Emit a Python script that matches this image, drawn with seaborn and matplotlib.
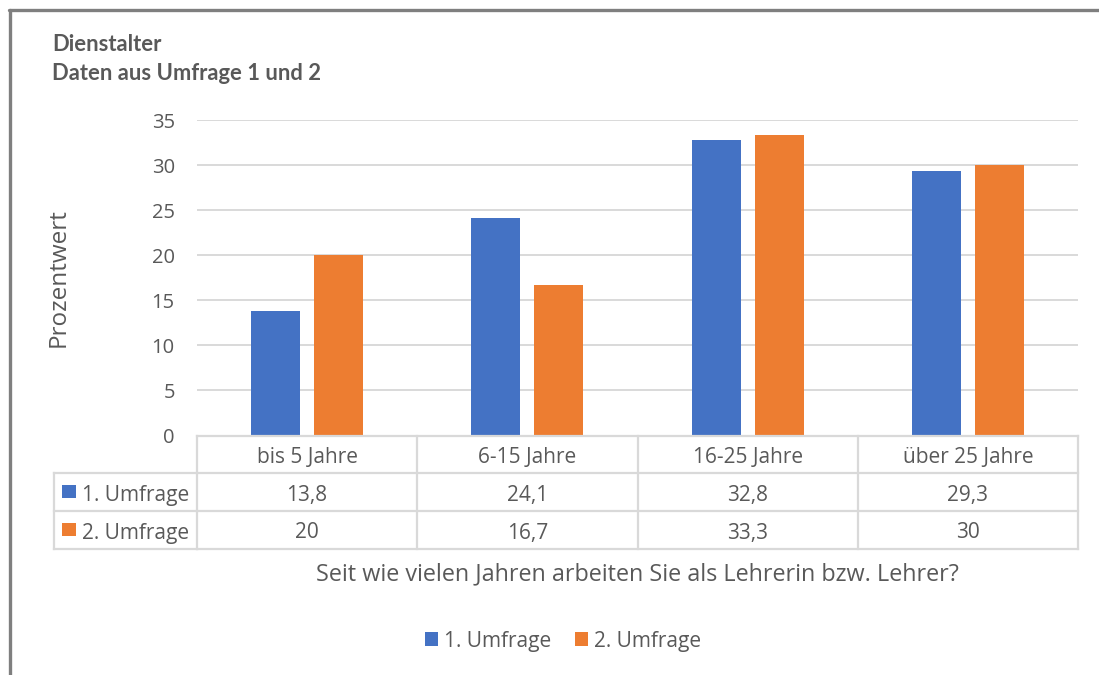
import matplotlib
matplotlib.use("Agg")
import matplotlib.pyplot as plt
import matplotlib.transforms as mtransforms
from matplotlib.lines import Line2D
from matplotlib.patches import Rectangle, Patch
import pandas as pd
import seaborn as sns

# ---- data ----
categories = ["bis 5 Jahre", "6-15 Jahre", "16-25 Jahre", "über 25 Jahre"]
series_names = ["1. Umfrage", "2. Umfrage"]
umfrage1 = [13.8, 24.1, 32.8, 29.3]
umfrage2 = [20, 16.7, 33.3, 30]
value_labels1 = ["13,8", "24,1", "32,8", "29,3"]
value_labels2 = ["20", "16,7", "33,3", "30"]
y_ticks = [0, 5, 10, 15, 20, 25, 30, 35]

BLUE = "#4472C4"
ORANGE = "#ED7D31"
GRID = "#D9D9D9"
TEXT = "#595959"
FRAME = "#7F7F7F"

sns.set_theme(style="white")
plt.rcParams["font.family"] = ["Open Sans", "DejaVu Sans"]

df = pd.DataFrame({
    "Kategorie": categories * 2,
    "Umfrage": [series_names[0]] * 4 + [series_names[1]] * 4,
    "Wert": umfrage1 + umfrage2,
})

W, H = 1099, 675
fig = plt.figure(figsize=(W / 100, H / 100), dpi=100)
fig.patch.set_facecolor("white")

# pixel transform with origin at top-left
px = mtransforms.Affine2D().scale(1, -1).translate(0, H)

ax = fig.add_axes([197 / W, 1 - 435.5 / H, 881 / W, 315.5 / H])
sns.barplot(data=df, x="Kategorie", y="Wert", hue="Umfrage",
            palette=[BLUE, ORANGE], width=0.572, gap=0.222,
            saturation=1, linewidth=0, legend=False, ax=ax, errorbar=None)

ax.set_xlim(-0.5, len(categories) - 0.5)
ax.set_ylim(0, 35)
ax.set_yticks(y_ticks)
ax.set_yticklabels([str(t) for t in y_ticks])
ax.set_xticks([])
ax.set_xlabel("")
ax.set_ylabel("")
ax.tick_params(axis="y", length=0, pad=16, labelsize=14.5, labelcolor=TEXT)
ax.yaxis.grid(True, color=GRID, linewidth=1.4)
ax.set_axisbelow(True)
for s in ax.spines.values():
    s.set_visible(False)

# ---- data table under the plot ----
colx = mtransforms.blended_transform_factory(ax.transData, px)
row_edges = [435.5, 472.5, 510.5, 548.5]
n = len(categories)
lkw = dict(color=GRID, linewidth=1.6, clip_on=False, solid_capstyle="projecting")
TFS = 15

# header row top line (only category columns)
ax.add_line(Line2D([-0.5, n - 0.5], [row_edges[0]] * 2, transform=colx, **lkw))
# lines spanning the legend column as well
for y in row_edges[1:]:
    fig.add_artist(Line2D([54, 197], [y, y], transform=px, **lkw))
    ax.add_line(Line2D([-0.5, n - 0.5], [y, y], transform=colx, **lkw))
# vertical lines
fig.add_artist(Line2D([54, 54], [row_edges[1], row_edges[3]], transform=px, **lkw))
for i in range(n + 1):
    ax.add_line(Line2D([i - 0.5, i - 0.5], [row_edges[0], row_edges[3]], transform=colx, **lkw))

row_mid = [(row_edges[k] + row_edges[k + 1]) / 2 for k in range(3)]
for i, cat in enumerate(categories):
    ax.text(i, row_mid[0] + 1, cat, transform=colx, ha="center", va="center_baseline",
            fontsize=TFS, color=TEXT, clip_on=False)
    ax.text(i, row_mid[1] + 1, value_labels1[i], transform=colx, ha="center",
            va="center_baseline", fontsize=TFS, color=TEXT, clip_on=False)
    ax.text(i, row_mid[2] + 1, value_labels2[i], transform=colx, ha="center",
            va="center_baseline", fontsize=TFS, color=TEXT, clip_on=False)

# series keys in the table's first column
for k, (name, col) in enumerate(zip(series_names, [BLUE, ORANGE])):
    ym = row_mid[k + 1]
    fig.add_artist(Rectangle((62, ym - 6.75), 13.5, 13.5, transform=px,
                             facecolor=col, edgecolor="none"))
    fig.text(82, ym + 1, name, transform=px, ha="left", va="center_baseline",
             fontsize=TFS, color=TEXT)

# ---- titles and axis labels ----
fig.text(52, 51, "Dienstalter", transform=px, ha="left", va="baseline",
         fontsize=15.8, fontweight="bold", color=TEXT, family=["Lato", "DejaVu Sans"])
fig.text(52, 80.5, "Daten aus Umfrage 1 und 2", transform=px, ha="left", va="baseline",
         fontsize=15.8, fontweight="bold", color=TEXT, family=["Lato", "DejaVu Sans"])
fig.text(59, 277.5, "Prozentwert", transform=px, ha="center", va="center",
         rotation=90, fontsize=17.5, color=TEXT)
fig.text(637, 574, "Seit wie vielen Jahren arbeiten Sie als Lehrerin bzw. Lehrer?",
         transform=px, ha="center", va="center", fontsize=16.8, color=TEXT)

# ---- legend ----
handles = [Patch(facecolor=BLUE, edgecolor="none"), Patch(facecolor=ORANGE, edgecolor="none")]
leg = fig.legend(handles, series_names, loc="center",
                 bbox_to_anchor=(563 / W, 1 - 641 / H), ncol=2, frameon=False,
                 fontsize=15, handlelength=0.62, handleheight=0.62,
                 handletextpad=0.3, columnspacing=1.15)
for t in leg.get_texts():
    t.set_color(TEXT)

# ---- outer frame (left and top edges) ----
fig.add_artist(Line2D([10, 10], [9.5, H + 5], transform=px, color=FRAME, linewidth=2.4))
fig.add_artist(Line2D([8.8, W + 5], [9.5, 9.5], transform=px, color=FRAME, linewidth=2.4))

fig.savefig("out.png", dpi=100)
